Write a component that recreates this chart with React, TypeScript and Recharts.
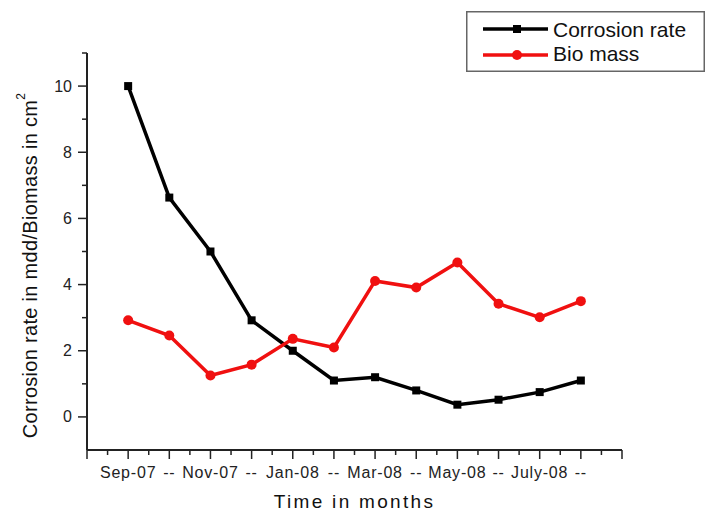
import { LineChart, Line, XAxis, YAxis, Legend } from "recharts";

const months = ["Sep-07", "--", "Nov-07", "--", "Jan-08", "--", "Mar-08", "--", "May-08", "--", "July-08", "--"];
const corrosionRate = [10, 6.63, 5.0, 2.92, 2.0, 1.1, 1.2, 0.8, 0.37, 0.52, 0.75, 1.1];
const bioMass = [2.92, 2.46, 1.25, 1.58, 2.36, 2.1, 4.11, 3.91, 4.67, 3.42, 3.01, 3.5];
const seriesOrder = ["corrosion", "bio"];
const xTicks = [0, 0.5, 1, 1.5, 2, 2.5, 3, 3.5, 4, 4.5, 5, 5.5, 6, 6.5, 7, 7.5, 8, 8.5, 9, 9.5, 10, 10.5, 11, 11.5, 12, 12.5, 13];
const yTicks = [0, 1, 2, 3, 4, 5, 6, 7, 8, 9, 10, 11];

const BLACK = "#000000";
const RED = "#f01010";
const AXIS = "#222222";

const data = months.map((m, i) => ({
  idx: i + 1,
  month: m,
  corrosion: corrosionRate[i],
  bio: bioMass[i],
}));

const XTick = ({ x, y, payload }: any) => {
  const v = payload.value;
  const major = Number.isInteger(v);
  const label = major && v >= 1 && v <= 12 ? months[v - 1] : "";
  return (
    <g>
      <line x1={x} x2={x} y1={y} y2={y + (major ? 9 : 5)} stroke={AXIS} strokeWidth={1.5} />
      {label && (
        <text x={x} y={y + 28} textAnchor="middle" fontSize={16} letterSpacing={0.8} fill={AXIS}>
          {label}
        </text>
      )}
    </g>
  );
};

const YTick = ({ x, y, payload }: any) => {
  const v = payload.value;
  const major = v % 2 === 0;
  return (
    <g>
      <line x1={x - (major ? 9 : 5)} x2={x} y1={y} y2={y} stroke={AXIS} strokeWidth={1.5} />
      {major && (
        <text x={x - 15} y={y + 5.5} textAnchor="end" fontSize={16} fill={AXIS}>
          {v}
        </text>
      )}
    </g>
  );
};

const SquareDot = ({ cx, cy }: any) => {
  if (cx == null || cy == null) return null;
  return <rect x={cx - 4} y={cy - 4} width={8} height={8} fill={BLACK} />;
};

const LegendBox = ({ payload }: any) => {
  const rows = [...(payload ?? [])].sort(
    (a: any, b: any) => seriesOrder.indexOf(a.dataKey) - seriesOrder.indexOf(b.dataKey)
  );
  return (
    <svg width={239} height={61} style={{ display: "block" }}>
      <rect x={0.75} y={0.75} width={237.5} height={59.5} fill="#fff" stroke="#666" strokeWidth={1.5} />
      {rows.map((p: any, i: number) => {
        const cy = 18 + i * 26;
        return (
          <g key={p.value}>
            <line x1={17} x2={82} y1={cy} y2={cy} stroke={p.color} strokeWidth={3.5} />
            {p.dataKey === "corrosion" ? (
              <rect x={47} y={cy - 4} width={8} height={8} fill={p.color} />
            ) : (
              <circle cx={51} cy={cy} r={5} fill={p.color} />
            )}
            <text x={87} y={cy + 7.5 - i * 2} fontSize={21} fill="#111">
              {p.value}
            </text>
          </g>
        );
      })}
    </svg>
  );
};

export default function App() {
  return (
    <div style={{ position: "absolute", left: 0, top: 0, fontFamily: "'Liberation Sans', Arial, sans-serif" }}>
      <LineChart width={709} height={513} data={data} margin={{ top: 53, right: 87, left: 0, bottom: 0 }}>
        <XAxis
          type="number"
          dataKey="idx"
          domain={[0, 13]}
          ticks={xTicks}
          interval={0}
          tickSize={0}
          tickMargin={0}
          tickLine={false}
          tick={<XTick />}
          height={63}
          axisLine={{ stroke: AXIS, strokeWidth: 2 }}
          label={{
            content: ({ viewBox }: any) => (
              <text
                x={viewBox.x + viewBox.width / 2}
                y={viewBox.y + 58}
                textAnchor="middle"
                fontSize={19}
                letterSpacing={2.3}
                fill="#111"
              >
                Time in months
              </text>
            ),
          }}
        />
        <YAxis
          type="number"
          domain={[-1, 11]}
          ticks={yTicks}
          interval={0}
          tickSize={0}
          tickMargin={0}
          tickLine={false}
          tick={<YTick />}
          width={87}
          axisLine={{ stroke: AXIS, strokeWidth: 2 }}
          label={{
            content: ({ viewBox }: any) => {
              const cx = 30;
              const cy = viewBox.y + viewBox.height / 2 + 14;
              return (
                <text
                  x={cx}
                  y={cy}
                  transform={`rotate(-90 ${cx} ${cy})`}
                  textAnchor="middle"
                  dominantBaseline="central"
                  fontSize={20}
                  letterSpacing={0.3}
                  fill="#111"
                >
                  Corrosion rate in mdd/Biomass in cm
                  <tspan dy={-9} fontSize={12}>
                    2
                  </tspan>
                </text>
              );
            },
          }}
        />
        <Legend
          layout="vertical"
          align="center"
          verticalAlign="middle"
          wrapperStyle={{ left: 466, top: 11, width: 239, height: 61 }}
          content={<LegendBox />}
        />
        <Line
          type="linear"
          dataKey="corrosion"
          name="Corrosion rate"
          stroke={BLACK}
          strokeWidth={3.5}
          dot={<SquareDot />}
          activeDot={false}
          isAnimationActive={false}
        />
        <Line
          type="linear"
          dataKey="bio"
          name="Bio mass"
          stroke={RED}
          strokeWidth={3.5}
          dot={{ r: 5, fill: RED, stroke: RED, strokeWidth: 0 }}
          activeDot={false}
          isAnimationActive={false}
        />
      </LineChart>
    </div>
  );
}
